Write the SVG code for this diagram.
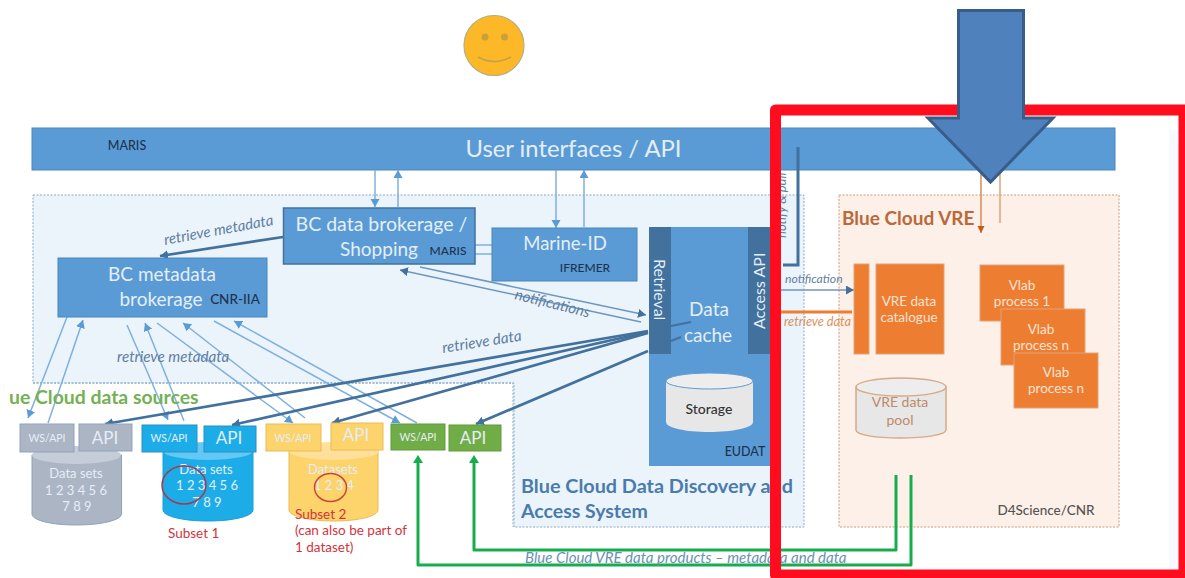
<svg xmlns="http://www.w3.org/2000/svg" width="1185" height="578" viewBox="0 0 1185 578">
<style>
text{font-family:Lato,"Open Sans","Liberation Sans",sans-serif}
.w{fill:#e4eef8;text-anchor:middle}
.k{fill:#1f3350;text-anchor:middle;font-weight:500}
.i{font-style:italic;fill:#5f7fa3}
.bx{fill:#5b9bd5;stroke:#4a86bb;stroke-width:1}
.dk{fill:#41719c}
.la{fill:none;stroke:#7fb0de;stroke-width:1.5;marker-end:url(#ml)}
.l{fill:none;stroke:#7fb0de;stroke-width:1.5}
.n{fill:none;stroke:#6f97bd;stroke-width:1.5;marker-end:url(#md)}
.da{fill:none;stroke:#41719c;stroke-width:2.700;marker-end:url(#md)}
.ga{fill:none;stroke:#16ad4e;stroke-width:3;stroke-linejoin:round;marker-end:url(#mg)}
.o{fill:#ed7d31;stroke:#e3a27a;stroke-width:1}
.ow{fill:#fbe3d4;text-anchor:middle;font-size:13.500px}
.r{fill:#d2343c;font-size:13.500px}
</style>
<defs>
<marker id="ml" markerUnits="userSpaceOnUse" markerWidth="12" markerHeight="10" refX="8" refY="4.500" orient="auto"><path d="M0 0L8 4.500L0 9Z" fill="#5b9bd5"/></marker>
<marker id="md" markerUnits="userSpaceOnUse" markerWidth="12" markerHeight="10" refX="8" refY="4.500" orient="auto"><path d="M0 0L8 4.500L0 9Z" fill="#41719c"/></marker>
<marker id="mg" markerUnits="userSpaceOnUse" markerWidth="12" markerHeight="12" refX="2" refY="5" orient="auto"><path d="M0 0L8 5L0 10Z" fill="#16ad4e"/></marker>
<marker id="mo" markerUnits="userSpaceOnUse" markerWidth="10" markerHeight="10" refX="7" refY="3.500" orient="auto"><path d="M0 0L7 3.500L0 7Z" fill="#c55a11"/></marker>
</defs>
<rect width="1185" height="578" fill="#fff"/>
<rect x="1169" y="130" width="14" height="441" fill="#f6fafe"/>
<g id="smiley">
<circle cx="494" cy="45.500" r="30" fill="#fdb827" stroke="#b9ae80" stroke-width="1.200"/>
<circle cx="485" cy="37" r="3.500" fill="#c8a040"/>
<circle cx="504.500" cy="37" r="3.500" fill="#c8a040"/>
<path d="M478 57Q494 66 511 57" fill="none" stroke="#bda253" stroke-width="1.500"/>
</g>
<g id="discovery-system">
<path d="M33 195H804V527H514V383H33Z" fill="#ebf3fb" stroke="#8aa9c8" stroke-width="1" stroke-dasharray="2 1.500"/>
<text x="521" y="493" font-size="19.800" font-weight="700" fill="#4a7cab">Blue Cloud Data Discovery and</text>
<text x="521" y="518" font-size="19.500" font-weight="700" fill="#4a7cab">Access System</text>
</g>
<path id="sources-frame" d="M33 383H513V527" fill="none" stroke="#8aa9c8" stroke-width="1" stroke-dasharray="2 1.500"/>
<g id="user-interfaces">
<rect class="bx" x="32" y="128" width="1083" height="42"/>
<text x="573.500" y="156.500" class="w" font-size="23.800">User interfaces / API</text>
<text x="127" y="150" class="k" font-size="12.500" font-weight="400">MARIS</text>
</g>
<g id="vre-box">
<rect x="839" y="195" width="280" height="332" fill="#fdf0e8" stroke="#cf9a78" stroke-width="1" stroke-dasharray="2 1.500"/>
<text x="842" y="225" font-size="19" font-weight="700" fill="#b9693a">Blue Cloud VRE</text>
<text x="1046" y="515" font-size="13.500" font-weight="500" text-anchor="middle" fill="#555">D4Science/CNR</text>
</g>
<text id="rotated-label" transform="translate(786 238) rotate(-90)" class="i" font-size="13">notify &amp; pull</text>
<g id="connectors">
<path class="la" d="M375 170V207"/>
<path class="la" d="M398 207V170"/>
<path class="la" d="M556 170V228"/>
<path class="la" d="M584 227V170"/>
<path class="l" d="M475 245H492M475 254H492"/>
<path class="da" d="M283 237L160 256"/>
<path class="la" d="M67 317L28 418"/>
<path class="la" d="M48 423L83 320"/>
<path class="la" d="M127 325L168 420"/>
<path class="la" d="M184 421L145 323"/>
<path class="la" d="M157 323L293 423"/>
<path class="la" d="M305 418L183 323"/>
<path class="la" d="M214 321L400 423"/>
<path class="la" d="M417 423L234 321"/>
<path class="da" d="M648 331L105 424"/>
<path class="da" d="M648 332L232 425"/>
<path class="da" d="M648 333L332 423"/>
<path class="da" d="M648 351L476 424"/>
<path class="n" d="M420 267L646 315"/>
<path class="n" d="M641 322L400 270"/>
<path d="M798 147V265H783" fill="none" stroke="#41719c" stroke-width="3"/>
<path class="n" d="M781 290H854"/>
<path d="M781 312H852" fill="none" stroke="#ed7d31" stroke-width="3"/>
<path d="M981 170V233" fill="none" stroke="#d98a5a" stroke-width="1.500" marker-end="url(#mo)"/>
<path d="M1000 170V223" fill="none" stroke="#e3a27a" stroke-width="1.500"/>
<path class="ga" d="M896 475V550H474V461"/>
<path class="ga" d="M911 475V565H418V461"/>
</g>
<g id="data-cache">
<rect x="649" y="227" width="126" height="239" fill="#5b9bd5"/>
<rect class="dk" x="649" y="227" width="22" height="127"/>
<rect class="dk" x="748" y="227" width="22" height="127"/>
<path d="M671 326L691 322M671 341L681 337" stroke="#41719c" stroke-width="2" fill="none"/>
<text transform="translate(654 259) rotate(90)" font-size="16" fill="#e4eef8">Retrieval</text>
<text transform="translate(765 329) rotate(-90)" font-size="16" fill="#e4eef8">Access API</text>
<text x="709" y="316" class="w" font-size="19">Data</text>
<text x="708" y="342" class="w" font-size="19">cache</text>
<text x="745" y="456" class="k" font-size="12.500">EUDAT</text>
</g>
<g id="storage">
<path d="M666 381V422C666 428 686 432 709 432S753 428 753 422V381Z" fill="#e7e7e7"/>
<ellipse cx="709.500" cy="381" rx="43.500" ry="8" fill="#ededed" stroke="#5b9bd5"/>
<text x="709" y="414" class="k" font-size="14" style="fill:#333">Storage</text>
</g>
<g id="metadata-brokerage">
<rect class="bx" x="58" y="258" width="209" height="59"/>
<text x="162" y="281" class="w" font-size="19">BC metadata</text>
<text x="161" y="306" class="w" font-size="19">brokerage</text>
<text x="235" y="304" class="k" font-size="13.500">CNR-IIA</text>
</g>
<g id="data-brokerage">
<rect x="283.500" y="208" width="191.500" height="56" fill="#5b9bd5" stroke="#41719c" stroke-width="1.500"/>
<text x="381.500" y="231" class="w" font-size="19.500">BC data brokerage /</text>
<text x="379" y="256" class="w" font-size="19">Shopping</text>
<text x="448" y="255" class="k" font-size="12">MARIS</text>
</g>
<g id="marine-id">
<rect class="bx" x="492" y="228" width="145" height="53"/>
<text x="565" y="250" class="w" font-size="18.500">Marine-ID</text>
<text x="585" y="272" class="k" font-size="12">IFREMER</text>
</g>
<g id="labels">
<text transform="translate(165 245) rotate(-10.500)" class="i" font-size="15">retrieve metadata</text>
<text x="117" y="362" class="i" font-size="15.200">retrieve metadata</text>
<text transform="translate(443 353) rotate(-9)" class="i" font-size="15.200">retrieve data</text>
<text transform="translate(514 299) rotate(14)" class="i" font-size="15">notifications</text>
<text x="785" y="283" class="i" font-size="12.200">notification</text>
<text x="784" y="326" class="i" font-size="12.700" style="fill:#d9915f">retrieve data</text>
<text x="525" y="563" class="i" font-size="15" style="fill:#6a8fb5">Blue Cloud VRE data products – metadata and data</text>
<text x="9" y="404" font-size="19.400" font-weight="700" fill="#74b154">ue Cloud data sources</text>
</g>
<g id="source-grey">
<path d="M32 455V514C32 520 50 525 76 525S121.500 520 121.500 514V455Z" fill="#acb5c4" stroke="#8fa2b8"/>
<ellipse cx="76.500" cy="455" rx="44.500" ry="9" fill="#c5cdd9"/>
<rect x="20" y="424" width="54" height="28" fill="#acb5c4" stroke="#8fa2bb" stroke-width="1"/>
<rect x="79" y="424" width="53" height="27" fill="#acb5c4" stroke="#8fa2bb" stroke-width="1"/>
<text x="47" y="442" class="w" font-size="10.500">WS/API</text>
<text x="105" y="444" class="w" font-size="17">API</text>
<text x="76" y="478" class="w" font-size="13">Data sets</text>
<text x="76" y="495" class="w" font-size="13">1 2 3 4 5 6</text>
<text x="77" y="511" class="w" font-size="13">7 8 9</text>
</g>
<g id="source-blue">
<path d="M163 450V510C163 516 182 521 208 521S253 516 253 510V450Z" fill="#1cade9" stroke="#1e9cd0"/>
<ellipse cx="208" cy="451" rx="45" ry="9" fill="#63c8f3"/>
<rect x="142" y="425" width="55" height="27" fill="#1cade9" stroke="#2a8ec2" stroke-width="1"/>
<rect x="204" y="426" width="52" height="26" fill="#1cade9" stroke="#2a8ec2" stroke-width="1"/>
<text x="169" y="442" class="w" font-size="10.500">WS/API</text>
<text x="229" y="444" class="w" font-size="17">API</text>
<text x="206" y="474" class="w" font-size="13">Data sets</text>
<text x="207" y="490" class="w" font-size="13">1 2 3 4 5 6</text>
<text x="207" y="507" class="w" font-size="13">7 8 9</text>
<ellipse cx="184" cy="485" rx="22" ry="19" fill="none" stroke="#a33a52" stroke-width="1.500"/>
</g>
<g id="source-yellow">
<path d="M289 450V510C289 516 309 521 334 521S378 516 378 510V450Z" fill="#fdd36b" stroke="#e8bb55"/>
<ellipse cx="334" cy="451" rx="45" ry="9" fill="#fee09a"/>
<rect x="266" y="424" width="55" height="27" fill="#fdd36b" stroke="#e8bb55" stroke-width="1"/>
<rect x="331" y="423" width="52" height="27" fill="#fdd36b" stroke="#e8bb55" stroke-width="1"/>
<text x="293" y="442" class="w" font-size="10.500">WS/API</text>
<text x="356" y="441" class="w" font-size="17">API</text>
<text x="333" y="474" class="w" font-size="13">Datasets</text>
<text x="334" y="490" class="w" font-size="13">1 2 3 4</text>
<ellipse cx="330.500" cy="487.500" rx="16" ry="14" fill="none" stroke="#c8463a" stroke-width="1.500"/>
</g>
<g id="source-green">
<rect x="391" y="424" width="54" height="26" fill="#70ad47" stroke="#629a3d" stroke-width="1"/>
<rect x="449" y="425" width="52" height="26" fill="#70ad47" stroke="#629a3d" stroke-width="1"/>
<text x="418" y="441" class="w" font-size="10.500">WS/API</text>
<text x="473" y="444" class="w" font-size="17">API</text>
</g>
<g id="subset-labels">
<text x="168" y="538" class="r">Subset 1</text>
<text x="295" y="519" class="r">Subset 2</text>
<text x="295" y="535" class="r">(can also be part of</text>
<text x="295" y="552" class="r">1 dataset)</text>
</g>
<g id="vre-catalogue">
<rect class="o" x="854" y="264" width="15" height="90"/>
<rect class="o" x="876" y="264" width="68" height="90"/>
<text x="909" y="306" class="ow">VRE data</text>
<text x="909" y="322" class="ow">catalogue</text>
</g>
<g id="vre-pool">
<path d="M856 387V430C856 435 876 438 900 438S946 435 946 430V387Z" fill="#e7e7e7" stroke="#d9a888" stroke-width="1.500"/>
<ellipse cx="901" cy="387" rx="45" ry="9" fill="#ededed" stroke="#d9a888" stroke-width="1.500"/>
<text x="900" y="407" text-anchor="middle" font-size="14" fill="#c08a68">VRE data</text>
<text x="900" y="425" text-anchor="middle" font-size="14" fill="#c08a68">pool</text>
</g>
<g id="vlab">
<rect class="o" x="980" y="265" width="84" height="56"/>
<text x="1022" y="290" class="ow">Vlab</text>
<text x="1022" y="306" class="ow">process 1</text>
<rect class="o" x="1001" y="309" width="84" height="56"/>
<text x="1041" y="334" class="ow">Vlab</text>
<text x="1041" y="350" class="ow">process n</text>
<rect class="o" x="1014" y="353" width="84" height="55"/>
<text x="1056" y="377" class="ow">Vlab</text>
<text x="1056" y="393" class="ow">process n</text>
</g>
<path id="red-frame" d="M775.500 110H1184V575H775.500Z" fill="none" stroke="#ff0d1f" stroke-width="11" stroke-linejoin="round"/>
<path id="big-arrow" d="M958.500 10.500H1023.500V118H1053L990.500 182L928 118H958.500Z" fill="#4f81bd" stroke="#385d8a" stroke-width="3"/>
</svg>
